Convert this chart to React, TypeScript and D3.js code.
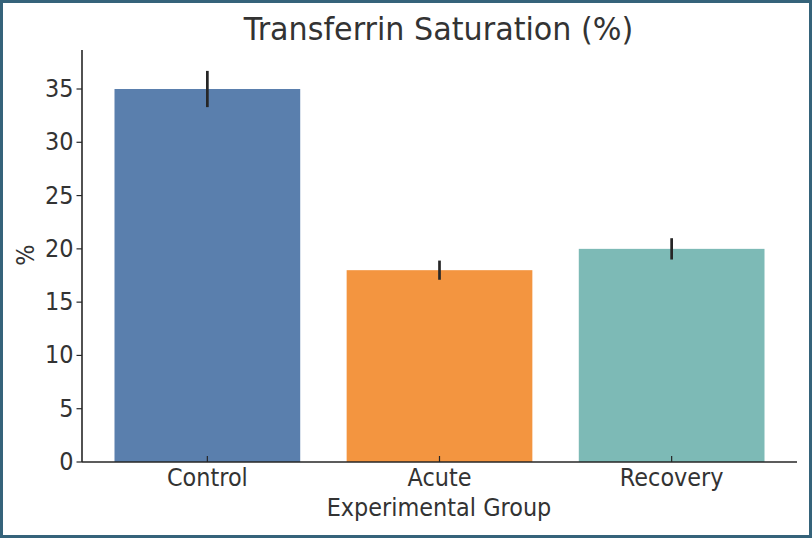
import React from "react";
import * as d3 from "d3";

const categories = ["Control", "Acute", "Recovery"];
const values = [35, 18, 20];
const errors = [1.7, 0.9, 1.0];
const colors = ["#5a7fad", "#f39540", "#7dbab6"];
const yTicks = [0, 5, 10, 15, 20, 25, 30, 35];
const title = "Transferrin Saturation (%)";
const xLabel = "Experimental Group";
const yLabel = "%";

const W = 812;
const H = 538;
const left = 82;
const right = 797;
const top = 50;
const bottom = 462;
const textColor = "#333333";
const font = "DejaVu Sans, sans-serif";
const SY = 1.07;

function T(props: {
  x: number;
  y: number;
  size: number;
  anchor?: string;
  rotate?: number;
  children: React.ReactNode;
}) {
  const { x, y, size, anchor = "middle", rotate = 0, children } = props;
  return (
    <text
      transform={`translate(${x},${y}) rotate(${rotate}) scale(1,${SY})`}
      textAnchor={anchor}
      fontSize={size}
      fill={textColor}
    >
      {children}
    </text>
  );
}

export default function App() {
  const x = d3.scaleLinear().domain([-0.54, 2.54]).range([left, right]);
  const y = d3.scaleLinear().domain([0, 38.66]).range([bottom, top]);
  const bw = x(0.4) - x(-0.4);

  return (
    <svg
      width={W}
      height={H}
      style={{ position: "absolute", left: 0, top: 0, background: "#fff" }}
      fontFamily={font}
    >
      <rect x={0} y={0} width={W} height={H} fill="#fff" />
      {categories.map((c, i) => (
        <rect
          key={c}
          x={x(i) - bw / 2}
          y={y(values[i])}
          width={bw}
          height={y(0) - y(values[i])}
          fill={colors[i]}
        />
      ))}
      {categories.map((c, i) => (
        <line
          key={c + "e"}
          x1={x(i)}
          x2={x(i)}
          y1={y(values[i] + errors[i])}
          y2={y(values[i] - errors[i])}
          stroke="#262626"
          strokeWidth={2.7}
        />
      ))}
      <line x1={left} x2={left} y1={top} y2={bottom} stroke="#262626" strokeWidth={1.6} />
      <line x1={left} x2={right} y1={bottom} y2={bottom} stroke="#262626" strokeWidth={1.6} />
      {yTicks.map((t) => (
        <g key={t}>
          <line x1={left - 5.5} x2={left} y1={y(t)} y2={y(t)} stroke="#262626" strokeWidth={1.2} />
          <T x={left - 8.5} y={y(t) + 8} size={22.4} anchor="end">
            {t}
          </T>
        </g>
      ))}
      {categories.map((c, i) => (
        <g key={c + "t"}>
          <line x1={x(i)} x2={x(i)} y1={bottom} y2={bottom - 6} stroke="#262626" strokeWidth={1.2} />
          <T x={x(i)} y={485.7} size={22.4}>
            {c}
          </T>
        </g>
      ))}
      <T x={439} y={516} size={22.4}>
        {xLabel}
      </T>
      <T x={34} y={255} size={22.4} rotate={-90}>
        {yLabel}
      </T>
      <T x={438.5} y={39.5} size={30.2}>
        {title}
      </T>
      <rect
        x={1.5}
        y={1.5}
        width={W - 3}
        height={H - 3}
        fill="none"
        stroke="#35637a"
        strokeWidth={3}
      />
    </svg>
  );
}
